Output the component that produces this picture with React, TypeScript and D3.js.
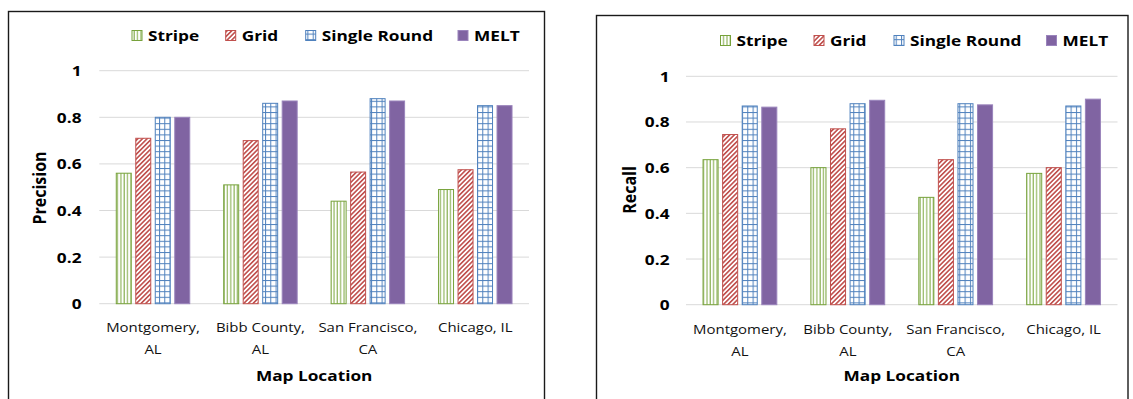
import React from "react";
import * as d3 from "d3";

// ---- data ----
const categories = ["Montgomery, AL", "Bibb County, AL", "San Francisco, CA", "Chicago, IL"];
const categoryLines = [["Montgomery,", "AL"], ["Bibb County,", "AL"], ["San Francisco,", "CA"], ["Chicago, IL"]];
const seriesNames = ["Stripe", "Grid", "Single Round", "MELT"];
const yTicks = [0, 0.2, 0.4, 0.6, 0.8, 1];
const yTickLabels = ["0", "0.2", "0.4", "0.6", "0.8", "1"];

const precisionStripe = [0.56, 0.51, 0.44, 0.49];
const precisionGrid = [0.71, 0.7, 0.565, 0.575];
const precisionSingleRound = [0.8, 0.86, 0.88, 0.85];
const precisionMelt = [0.8, 0.87, 0.87, 0.85];

const recallStripe = [0.635, 0.6, 0.47, 0.575];
const recallGrid = [0.745, 0.77, 0.635, 0.6];
const recallSingleRound = [0.87, 0.88, 0.88, 0.87];
const recallMelt = [0.865, 0.895, 0.875, 0.9];

// ---- styles ----
const FONT = "'Open Sans', sans-serif";
const SX = 1.15; // horizontal text stretch
const GREEN = "#77A23B";
const GREEN_LINE = "#86AE4F";
const RED = "#C0504D";
const BLUE = "#4F81BD";
const PURPLE = "#8064A2";
const GRIDLINE = "#D9D9D9";

const seriesStyles = [
  { fill: "url(#pat-stripe)", stroke: GREEN },
  { fill: "url(#pat-diag)", stroke: RED },
  { fill: "url(#pat-grid)", stroke: BLUE },
  { fill: PURPLE, stroke: "#9A84BC" },
];

type PanelLayout = {
  frame: { x: number; y: number; w: number; h: number };
  plot: { x0: number; x1: number; yTop: number; yBottom: number };
  legendTextX: number[];
  legendBaseline: number;
  tickRight: number;
  titleX: number;
  titleY: number;
  catBaselines: [number, number];
  axisTitleBaseline: number;
};

function Txt(props: {
  x: number;
  y: number;
  size: number;
  weight?: string | number;
  anchor?: string;
  rotate?: number;
  fill?: string;
  children: React.ReactNode;
}) {
  const { x, y, size, weight = "normal", anchor = "start", rotate, fill = "#000", children } = props;
  const t = `translate(${x},${y}) scale(${SX},1)` + (rotate ? ` rotate(${rotate})` : "");
  return (
    <text transform={t} fontSize={size} fontWeight={weight} textAnchor={anchor} fontFamily={FONT} fill={fill}>
      {children}
    </text>
  );
}

function Panel({ layout, values, title }: { layout: PanelLayout; values: number[][]; title: string }) {
  const { frame, plot } = layout;
  const x0 = d3.scaleBand<string>().domain(categories).range([plot.x0, plot.x1]).padding(0);
  const x1 = d3
    .scaleBand<string>()
    .domain(seriesNames)
    .range([0, x0.bandwidth()])
    .paddingInner(0.18)
    .paddingOuter(0.845);
  const y = d3.scaleLinear().domain([0, 1]).range([plot.yBottom, plot.yTop]);
  const midX = (plot.x0 + plot.x1) / 2;

  return (
    <g>
      <rect x={frame.x} y={frame.y} width={frame.w} height={frame.h} fill="#fff" stroke="#1a1a1a" strokeWidth={1.4} />

      {/* legend */}
      {seriesNames.map((name, i) => {
        const tx = layout.legendTextX[i];
        return (
          <g key={name}>
            <rect
              x={tx - 16}
              y={layout.legendBaseline - 10.5}
              width={10}
              height={10}
              fill={seriesStyles[i].fill}
              stroke={seriesStyles[i].stroke}
              strokeWidth={1}
            />
            <Txt x={tx} y={layout.legendBaseline} size={15} weight="bold">
              {name}
            </Txt>
          </g>
        );
      })}

      {/* gridlines and tick labels */}
      {yTicks.map((t, i) => (
        <g key={t}>
          <line x1={plot.x0} x2={plot.x1} y1={y(t)} y2={y(t)} stroke={GRIDLINE} strokeWidth={1} />
          <Txt x={layout.tickRight} y={y(t) + 5.5} size={15} weight="bold" anchor="end">
            {yTickLabels[i]}
          </Txt>
        </g>
      ))}

      {/* bars */}
      {seriesNames.map((name, s) =>
        categories.map((cat, c) => {
          const v = values[s][c];
          const bx = (x0(cat) ?? 0) + (x1(name) ?? 0);
          return (
            <rect
              key={name + cat}
              x={bx + 0.5}
              y={y(v)}
              width={x1.bandwidth() - 1}
              height={y(0) - y(v)}
              fill={seriesStyles[s].fill}
              stroke={seriesStyles[s].stroke}
              strokeWidth={1}
            />
          );
        })
      )}

      {/* category labels */}
      {categories.map((cat, c) => {
        const cx = (x0(cat) ?? 0) + x0.bandwidth() / 2;
        return categoryLines[c].map((line, l) => (
          <Txt key={cat + l} x={cx} y={layout.catBaselines[l]} size={13} anchor="middle" fill="#111">
            {line}
          </Txt>
        ));
      })}

      {/* axis titles */}
      <Txt x={midX} y={layout.axisTitleBaseline} size={15} weight="bold" anchor="middle">
        Map Location
      </Txt>
      <Txt x={layout.titleX} y={layout.titleY} size={16} weight="bold" anchor="middle" rotate={-90}>
        {title}
      </Txt>
    </g>
  );
}

const leftLayout: PanelLayout = {
  frame: { x: 8.5, y: 11.5, w: 536, h: 400 },
  plot: { x0: 99.3, x1: 529, yTop: 70.7, yBottom: 303.7 },
  legendTextX: [148, 241.7, 321.7, 474],
  legendBaseline: 41,
  tickRight: 81.5,
  titleX: 46.4,
  titleY: 188,
  catBaselines: [332, 354],
  axisTitleBaseline: 381,
};

const rightLayout: PanelLayout = {
  frame: { x: 596.5, y: 15.5, w: 531.5, h: 400 },
  plot: { x0: 686, x1: 1117.5, yTop: 76.3, yBottom: 304.7 },
  legendTextX: [736.5, 830, 910, 1062.5],
  legendBaseline: 46,
  tickRight: 669.5,
  titleX: 636,
  titleY: 190,
  catBaselines: [333.5, 355.5],
  axisTitleBaseline: 381,
};

export default function App() {
  return (
    <svg
      width={1133}
      height={399}
      viewBox="0 0 1133 399"
      style={{ position: "absolute", left: 0, top: 0, background: "#fff" }}
    >
      <defs>
        <pattern id="pat-stripe" patternUnits="userSpaceOnUse" width={3.33} height={4}>
          <rect width={3.33} height={4} fill="#fff" />
          <line x1={1} x2={1} y1={0} y2={4} stroke={GREEN_LINE} strokeWidth={1.1} />
        </pattern>
        <pattern id="pat-diag" patternUnits="userSpaceOnUse" width={3.3} height={6} patternTransform="rotate(45)">
          <rect width={3.3} height={6} fill="#fff" />
          <rect x={0} y={0} width={1.6} height={6} fill={RED} />
        </pattern>
        <pattern id="pat-grid" patternUnits="userSpaceOnUse" width={5.3} height={5.6}>
          <rect width={5.3} height={5.6} fill="#fff" />
          <line x1={0.5} x2={0.5} y1={0} y2={5.6} stroke={BLUE} strokeWidth={1} />
          <line x1={0} x2={5.3} y1={0.5} y2={0.5} stroke={BLUE} strokeWidth={1} />
        </pattern>
      </defs>
      <rect width={1133} height={399} fill="#fff" />
      <Panel
        layout={leftLayout}
        title="Precision"
        values={[precisionStripe, precisionGrid, precisionSingleRound, precisionMelt]}
      />
      <Panel layout={rightLayout} title="Recall" values={[recallStripe, recallGrid, recallSingleRound, recallMelt]} />
    </svg>
  );
}
